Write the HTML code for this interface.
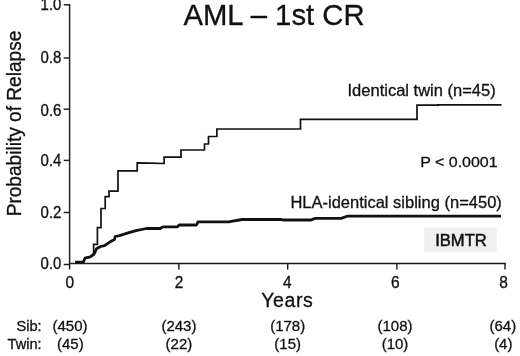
<!DOCTYPE html>
<html><head><meta charset="utf-8">
<style>
html,body{margin:0;padding:0;background:#fff;}
body{width:520px;height:356px;overflow:hidden;}
svg{display:block;will-change:transform;}
text{font-family:"Liberation Sans", sans-serif;fill:#111;stroke:#111;stroke-width:0.3px;}
</style></head>
<body>
<svg width="520" height="356" viewBox="0 0 520 356">
<rect x="0" y="0" width="520" height="356" fill="#fff"/>
<g stroke="#1e1e1e" stroke-width="1.45" fill="none">
<line x1="69.6" y1="4" x2="69.6" y2="269.6"/>
<line x1="69" y1="263.5" x2="505.7" y2="263.5"/>
<line x1="63.7" y1="4.8" x2="69.6" y2="4.8"/>
<line x1="63.7" y1="58.0" x2="69.6" y2="58.0"/>
<line x1="63.7" y1="109.2" x2="69.6" y2="109.2"/>
<line x1="63.7" y1="160.4" x2="69.6" y2="160.4"/>
<line x1="63.7" y1="212.5" x2="69.6" y2="212.5"/>
<line x1="63.7" y1="264.5" x2="69.6" y2="264.5"/>
<line x1="178.9" y1="263" x2="178.9" y2="269.6"/>
<line x1="287.7" y1="263" x2="287.7" y2="269.6"/>
<line x1="396.9" y1="263" x2="396.9" y2="269.6"/>
<line x1="505" y1="263" x2="505" y2="269.6"/>
</g>
<path d="M75.2,262.1 H83.3 L85,258.1 L90.2,256.9 L93.6,254.5 V244.3 H97.4 V227.6 H101 V208.5 H105.2 V196.7 H109 V191.1 H118 V170.9 H137.2 V162.9 L150,163.1 L164.1,163.5 V157.1 H181 V150 H204.5 V144 H208.5 V136.5 H216.9 V129 H300.5 V119.4 H417 V105.2 H438 V104.8 H501.5" stroke="#111" stroke-width="1.7" fill="none"/>
<path d="M75.2,262.1 H83.3 L85,258.2 L90.2,256.9 L94.2,254 L96.5,248.8 L100.6,246.5 L104.6,245.6 L110.4,241.7 L114.4,239.6 L115.2,236.5 L119.6,235.6 L127.3,233.2 L136,230.6 L146.3,228.5 H160.2 L162.8,226.8 H177.5 L179.2,225 H196.5 L198,221.9 H228.5 L242,219.5 H281.5 L283,220 H311.2 L314.6,218.4 H341.2 L347,216.2 H501" stroke="#111" stroke-width="2.8" fill="none" stroke-linejoin="round"/>
<rect x="424.2" y="227.6" width="72.6" height="24.2" fill="#f0f0f0"/>
<text transform="translate(274.00,24.90) scale(1,1.035)" font-size="29.3" text-anchor="middle">AML – 1st CR</text>
<text transform="translate(20.50,123.50) rotate(-90) scale(1,1.065)" font-size="19.1" text-anchor="middle">Probability of Relapse</text>
<text transform="translate(61.40,10.20) scale(1,1.040)" font-size="15" text-anchor="end">1.0</text>
<text transform="translate(61.40,62.80) scale(1,1.040)" font-size="15" text-anchor="end">0.8</text>
<text transform="translate(61.40,115.60) scale(1,1.040)" font-size="15" text-anchor="end">0.6</text>
<text transform="translate(61.40,166.40) scale(1,1.040)" font-size="15" text-anchor="end">0.4</text>
<text transform="translate(61.40,217.50) scale(1,1.040)" font-size="15" text-anchor="end">0.2</text>
<text transform="translate(61.40,269.30) scale(1,1.040)" font-size="15" text-anchor="end">0.0</text>
<text transform="translate(69.80,287.80) scale(1,1.080)" font-size="15.5" text-anchor="middle">0</text>
<text transform="translate(179.00,287.80) scale(1,1.080)" font-size="15.5" text-anchor="middle">2</text>
<text transform="translate(287.20,287.80) scale(1,1.080)" font-size="15.5" text-anchor="middle">4</text>
<text transform="translate(395.20,287.80) scale(1,1.080)" font-size="15.5" text-anchor="middle">6</text>
<text transform="translate(503.60,287.80) scale(1,1.080)" font-size="15.5" text-anchor="middle">8</text>
<text transform="translate(287.30,307.30)" font-size="19.5" text-anchor="middle" letter-spacing="0.6">Years</text>
<text transform="translate(421.60,95.90)" font-size="16.5" text-anchor="middle">Identical twin (n=45)</text>
<text transform="translate(458.90,167.00) scale(1,0.960)" font-size="16" text-anchor="middle">P &lt; 0.0001</text>
<text transform="translate(396.10,207.90)" font-size="16.5" text-anchor="middle">HLA-identical sibling (n=450)</text>
<text transform="translate(461.00,245.60)" font-size="16.6" text-anchor="middle" style="stroke-width:0.5px">IBMTR</text>
<text transform="translate(41.60,331.20)" font-size="14.6" text-anchor="end">Sib:</text>
<text transform="translate(41.60,348.60)" font-size="14.6" text-anchor="end">Twin:</text>
<text transform="translate(70.00,331.20)" font-size="15" text-anchor="middle">(450)</text>
<text transform="translate(178.90,331.20)" font-size="15" text-anchor="middle">(243)</text>
<text transform="translate(287.70,331.20)" font-size="15" text-anchor="middle">(178)</text>
<text transform="translate(395.00,331.20)" font-size="15" text-anchor="middle">(108)</text>
<text transform="translate(502.80,331.20)" font-size="15" text-anchor="middle">(64)</text>
<text transform="translate(70.30,348.60)" font-size="15" text-anchor="middle">(45)</text>
<text transform="translate(178.90,348.60)" font-size="15" text-anchor="middle">(22)</text>
<text transform="translate(287.70,348.60)" font-size="15" text-anchor="middle">(15)</text>
<text transform="translate(395.00,348.60)" font-size="15" text-anchor="middle">(10)</text>
<text transform="translate(503.30,348.60)" font-size="15" text-anchor="middle">(4)</text>
</svg>
</body></html>
